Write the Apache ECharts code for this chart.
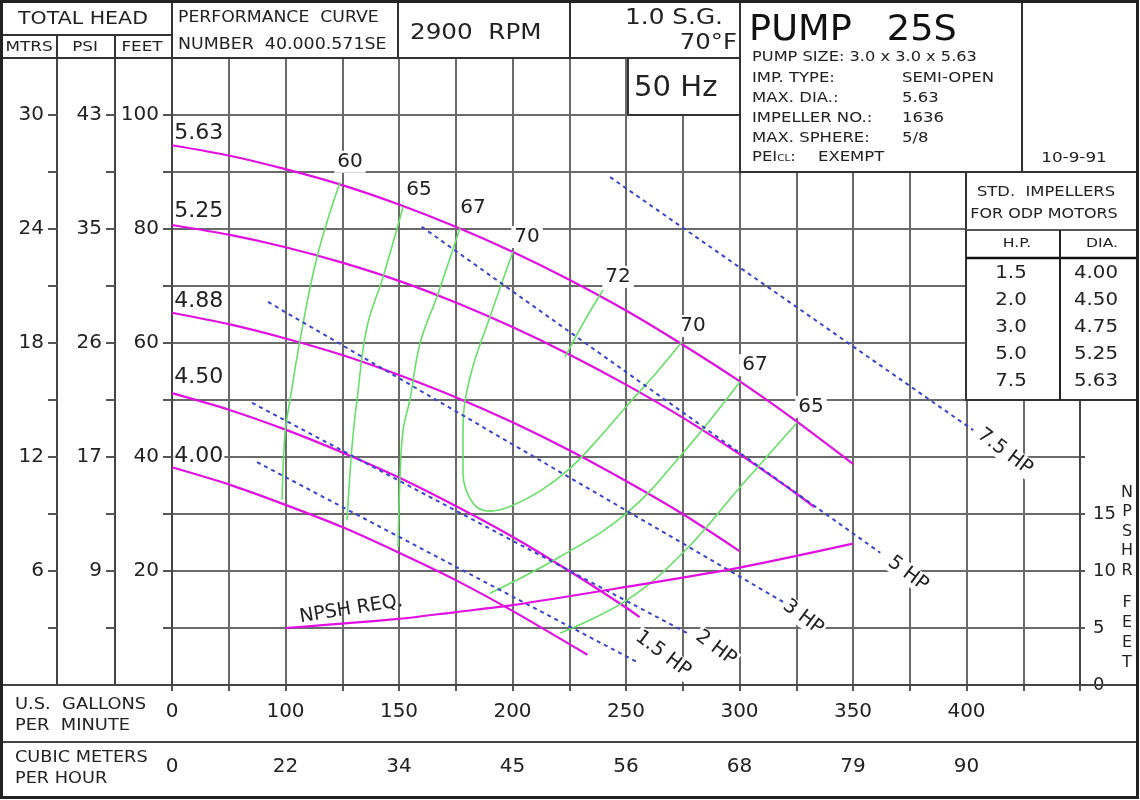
<!DOCTYPE html>
<html><head><meta charset="utf-8">
<script src="https://cdn.jsdelivr.net/npm/echarts@6/dist/echarts.min.js"></script>
<style>html,body{margin:0;padding:0;background:#fff}#c{width:1140px;height:800px}</style>
</head><body><div id="c"></div>
<script>
const FONT = '"DejaVu Sans", Verdana, sans-serif';

// ---- data (flow in US gpm, head in feet) ----
const gpm563 = [0,50,100,125,150,175,200,225,250,275,300,325,350];
const head563 = [94.7,92.9,90.5,87.7,84.3,80.4,76.0,71.1,65.7,59.7,53.3,46.3,38.8];
const gpm525 = [0,50,100,125,150,175,200,225,250,275,300,325,333];
const head525 = [80.7,79.0,76.8,74.1,70.9,67.1,62.8,58.0,52.7,46.9,40.5,33.6,31.2];
const gpm488 = [0,50,100,125,150,175,200,225,250,275,300];
const head488 = [65.3,63.3,60.8,57.9,54.4,50.5,46.1,41.2,35.8,30.0,23.5];
const gpm450 = [0,50,100,125,150,175,200,225,250,256];
const head450 = [51.2,48.3,44.8,40.8,36.4,31.4,26.0,20.0,13.6,11.9];
const gpm400 = [0,50,100,125,150,175,200,233];
const head400 = [38.2,35.2,31.6,27.7,23.2,18.4,13.0,5.3];

const eff60 = [[124,88.2],[113.9,75.1],[106.4,60.5],[102,50.0],[99.6,44.2],[97,32.5]];
const eff65L = [[151.8,83.9],[143,71.6],[135.9,62.8],[131.5,50.0],[129.3,41.8],[127.1,28.9]];
const eff67L = [[176.9,80.2],[166.7,68.1],[159.3,60.0],[154.8,50.0],[151.8,44.7],[150.4,36.0],[149.6,24.2]];
const eff70 = [[200.2,76.0],[190.1,64.6],[181.3,54.0],[178.2,44.7],[178.2,37.2],[182.6,31.9],[190.1,30.5],[198.9,31.3],[212.1,34.0],[225.3,38.0],[238.5,43.5],[250.4,49.0],[262.8,54.5],[274.7,60.2]];
const eff72 = [[239.9,69.3],[231.9,64.0],[223.1,57.5]];
const eff67R = [[300.2,53.2],[275.1,40.7],[250.4,30.2],[220.9,22.5],[190.1,16.1]];
const eff65R = [[325.3,46.0],[300.2,34.7],[275.1,23.2],[250.4,14.9],[220.9,9.1]];

const hp15 = [[74.9,39.1],[255,4.0]];
const hp2 = [[70.5,49.5],[277,9.1]];
const hp3 = [[84.6,67.2],[320,14.4]];
const hp5 = [[160,80.4],[362,23.2]];
const hp75 = [[243,89.1],[403,44.7]];

// NPSH required (gpm, feet NPSH)
const npshGpm = [100,150,175,200,250,300,350];
const npshFt = [5.0,5.8,6.4,7.0,8.6,10.3,12.4];

// labels: [text, gpm, head]
const diaLabels = [['5.63',1.2,96.8],['5.25',1.2,83.1],['4.88',1.2,67.4],['4.50',1.2,53.9],['4.00',1.2,40.2]];
const effLabels = [['60',128.4,91.8],['65',158.8,86.8],['67',182.6,83.7],['70',206.4,78.6],['72',246.5,71.6],['70',279.5,63.0],['67',306.8,56.1],['65',331.5,48.8]];
const hpLabels = [['1.5 HP',266.3,5.4],['2 HP',289.6,6.5],['3 HP',328,11.9],['5 HP',374.2,19.5],['7.5 HP',416.9,40.9]];
const npshLabel = ['NPSH REQ.',128.9,13.3];

// axis tick labels
const flowTickPos = [0,100,150,200,250,300,350,400];
const gpmTickText = ['0','100','150','200','250','300','350','400'];
const cmhTickText = ['0','22','34','45','56','68','79','90'];
const feetTicks = [20,40,60,80,100];
const psiText = ['9','17','26','35','43'];
const mtrsText = ['6','12','18','24','30'];
const npshTicks = [0,5,10,15];

// ---- helpers ----
// the flow scale is compressed between 0 and 100 gpm (as on the original sheet)
const toU = g => g < 100 ? 50 + g / 2 : g;
const zip = (gs, hs) => gs.map((g, i) => [toU(g), hs[i]]);
const conv = arr => arr.map(p => [toU(p[0]), p[1]]);

const MAG = '#e010e0', GRN = '#66e066', BLU = '#3a44cc', GRID = '#6a6a6a', TXT = '#222';

function curve(data, color, width, smooth, yIdx, dash) {
  return {type:'line', data, xAxisIndex:0, yAxisIndex:yIdx||0, showSymbol:false, symbol:'none', smooth:smooth,
    silent:true, z:3, lineStyle:{color, width, type: dash || 'solid'}};
}
function labelSeries(list, opts) {
  return {type:'scatter', xAxisIndex:0, yAxisIndex:0, symbolSize:0, silent:true, z:6,
    itemStyle:{opacity:1},
    data: list.map(l => ({value:[toU(l[1]), l[2]], name:l[0]})),
    label: Object.assign({show:true, position:'inside', formatter:'{b}', color:TXT, opacity:1, fontFamily:FONT}, opts)};
}

const series = [
  curve(zip(gpm563, head563), MAG, 2.2, 0.25),
  curve(zip(gpm525, head525), MAG, 2.2, 0.25),
  curve(zip(gpm488, head488), MAG, 2.2, 0.25),
  curve(zip(gpm450, head450), MAG, 2.2, 0.25),
  curve(zip(gpm400, head400), MAG, 2.2, 0.25),
  curve(conv(eff60), GRN, 1.6, 0.4),
  curve(conv(eff65L), GRN, 1.6, 0.4),
  curve(conv(eff67L), GRN, 1.6, 0.4),
  curve(conv(eff70), GRN, 1.6, 0.4),
  curve(conv(eff72), GRN, 1.6, 0.4),
  curve(conv(eff67R), GRN, 1.6, 0.4),
  curve(conv(eff65R), GRN, 1.6, 0.4),
  curve(conv(hp15), BLU, 2, 0, 0, [4,4]),
  curve(conv(hp2), BLU, 2, 0, 0, [4,4]),
  curve(conv(hp3), BLU, 2, 0, 0, [4,4]),
  curve(conv(hp5), BLU, 2, 0, 0, [4,4]),
  curve(conv(hp75), BLU, 2, 0, 0, [4,4]),
  curve(zip(npshGpm, npshFt), MAG, 2.2, 0.3, 3),
  labelSeries(diaLabels, {fontSize:22, align:'left', verticalAlign:'middle', backgroundColor:'#fff', padding:[0,1]}),
  labelSeries(effLabels, {fontSize:20, align:'center', verticalAlign:'middle', backgroundColor:'#fff', padding:[1,3]}),
  labelSeries(hpLabels, {fontSize:19.5, align:'center', verticalAlign:'middle', rotate:-37, backgroundColor:'#fff', padding:[0,2]}),
  labelSeries([npshLabel], {fontSize:19, align:'center', verticalAlign:'middle', rotate:9})
];

function mapLabel(ticks, texts) {
  return v => { const i = ticks.indexOf(v); return i >= 0 ? texts[i] : ''; };
}
const flowPosU = flowTickPos.map(toU);

const axisLineStyle = {color:'#444', width:2};
const tickStyle = {color:'#555', width:2};
const lab = (extra) => Object.assign({color:TXT, fontFamily:FONT}, extra);

const yAxes = [
  {type:'value', min:0, max:110, interval:10, position:'left', offset:0,
   axisLine:{show:true, lineStyle:axisLineStyle}, axisTick:{show:true, length:9, lineStyle:tickStyle},
   axisLabel:lab({fontSize:20, margin:13, formatter: mapLabel(feetTicks, feetTicks.map(String))}),
   splitLine:{show:true, lineStyle:{color:GRID, width:2}}},
  {type:'value', min:0, max:110, interval:10, position:'left', offset:57,
   axisLine:{show:true, lineStyle:axisLineStyle}, axisTick:{show:true, length:9, lineStyle:tickStyle},
   axisLabel:lab({fontSize:20, margin:13, formatter: mapLabel(feetTicks, psiText)}), splitLine:{show:false}},
  {type:'value', min:0, max:110, interval:10, position:'left', offset:115,
   axisLine:{show:true, lineStyle:axisLineStyle}, axisTick:{show:true, length:9, lineStyle:tickStyle},
   axisLabel:lab({fontSize:20, margin:13, formatter: mapLabel(feetTicks, mtrsText)}), splitLine:{show:false}},
  {type:'value', min:0, max:55, interval:5, position:'right', offset:0,
   axisLine:{show:true, lineStyle:axisLineStyle}, axisTick:{show:true, length:5, lineStyle:tickStyle},
   axisLabel:lab({fontSize:18, margin:13, formatter: mapLabel(npshTicks, npshTicks.map(String))}), splitLine:{show:false}}
];
const xAxes = [
  {type:'value', min:50, max:450, interval:25, position:'bottom', offset:0,
   axisLine:{show:true, lineStyle:axisLineStyle}, axisTick:{show:true, length:6, lineStyle:tickStyle},
   axisLabel:lab({fontSize:20, margin:17, formatter: mapLabel(flowPosU, gpmTickText), showMinLabel:true, showMaxLabel:true}),
   splitLine:{show:true, lineStyle:{color:GRID, width:2}}},
  {type:'value', min:50, max:450, interval:25, position:'bottom', offset:57,
   axisLine:{show:true, lineStyle:axisLineStyle}, axisTick:{show:true, length:6, lineStyle:tickStyle},
   axisLabel:lab({fontSize:20, margin:15, formatter: mapLabel(flowPosU, cmhTickText), showMinLabel:true}),
   splitLine:{show:false}}
];

// ---- sheet decoration ----
const G = [];
const Z = 50;
function box(x, y, w, h, lw) { G.push({type:'rect', z:Z, shape:{x, y, width:w, height:h}, style:{fill:'#fff', stroke:'#333', lineWidth:lw||2}}); }
function ln(x1, y1, x2, y2, lw, c) { G.push({type:'line', z:Z+1, shape:{x1, y1, x2, y2}, style:{stroke:c||'#333', lineWidth:lw||2}}); }
function tx(t, x, y, size, align, sx, extra) {
  G.push({type:'text', z:Z+2, x, y, scaleX:sx||1, scaleY:1,
    style:Object.assign({text:t, x:0, y:0, font:size + 'px ' + FONT, fill:TXT, textAlign:align||'left', textVerticalAlign:'middle'}, extra||{})});
}
// header left
box(0, 0, 172, 35); box(0, 35, 172, 23);
ln(57, 35, 57, 58, 2); ln(115, 35, 115, 58, 2);
tx('TOTAL HEAD', 83, 19, 18, 'center', 1.14);
tx('MTRS', 29, 47, 14, 'center', 1.2); tx('PSI', 85, 47, 14, 'center', 1.2); tx('FEET', 142, 47, 14, 'center', 1.2);
// performance curve number
box(172, 0, 226, 58);
tx('PERFORMANCE  CURVE', 178, 18, 15, 'left', 1.15);
tx('NUMBER  40.000.571SE', 178, 45, 15, 'left', 1.16);
box(398, 0, 172, 58);
tx('2900  RPM', 410, 33, 22, 'left', 1.12);
box(570, 0, 170, 58);
tx('1.0 S.G.', 723, 19, 21, 'right', 1.18);
tx('70°F', 737, 44, 21, 'right', 1.16);
box(628, 58, 112, 57);
tx('50 Hz', 634, 89, 28, 'left', 1.04);
// pump info
box(740, 0, 282, 172);
tx('PUMP   25S', 749, 31, 36, 'left', 1.02, {fill:'#111'});
tx('PUMP SIZE: 3.0 x 3.0 x 5.63', 752, 57, 13.5, 'left', 1.2);
const infoRows = [['IMP. TYPE:', 'SEMI-OPEN'], ['MAX. DIA.:', '5.63'], ['IMPELLER NO.:', '1636'], ['MAX. SPHERE:', '5/8']];
infoRows.forEach((r, i) => { tx(r[0], 752, 78 + i * 20, 13.5, 'left', 1.22); tx(r[1], 902, 78 + i * 20, 13.5, 'left', 1.22); });
G.push({type:'text', z:Z+2, x:752, y:157, scaleX:1.22, style:{text:'PEI{s|CL}:', x:0, y:0, font:'13.5px ' + FONT, fill:TXT, textVerticalAlign:'middle',
  rich:{s:{fontSize:8.5, fontFamily:FONT, fill:TXT, padding:[4,0,0,0]}}}});
tx('EXEMPT', 818, 157, 13.5, 'left', 1.22);
box(1022, 0, 116, 172);
tx('10-9-91', 1074, 158, 14, 'center', 1.2);
// standard impellers table
box(966, 172, 172, 228);
tx('STD.  IMPELLERS', 1046, 192, 14, 'center', 1.17);
tx('FOR ODP MOTORS', 1044, 214, 14, 'center', 1.14);
ln(966, 230, 1138, 230, 2, '#555');
ln(966, 258, 1138, 258, 2.5, '#111');
ln(1060, 230, 1060, 400, 2, '#222');
tx('H.P.', 1017, 244, 13, 'center', 1.2); tx('DIA.', 1102, 244, 13, 'center', 1.2);
const stdHp = ['1.5', '2.0', '3.0', '5.0', '7.5'];
const stdDia = ['4.00', '4.50', '4.75', '5.25', '5.63'];
stdHp.forEach((h, i) => { tx(h, 1011, 273 + i * 27.2, 18, 'center', 1.1); tx(stdDia[i], 1118, 273 + i * 27.2, 18, 'right', 1.1); });
// NPSH axis title
G.push({type:'text', z:Z+2, style:{text:'N\nP\nS\nH\nR', x:1127, y:483, font:'16px ' + FONT, fill:TXT, textAlign:'center', textVerticalAlign:'top', lineHeight:19.5}});
G.push({type:'text', z:Z+2, style:{text:'F\nE\nE\nT', x:1127, y:593, font:'16px ' + FONT, fill:TXT, textAlign:'center', textVerticalAlign:'top', lineHeight:20}});
// flow rows
ln(0, 685, 1138, 685, 2, '#444');
ln(0, 742, 1138, 742, 2, '#444');
tx('U.S.  GALLONS', 15, 705, 15, 'left', 1.19); tx('PER  MINUTE', 15, 726, 15, 'left', 1.19);
tx('CUBIC METERS', 15, 758, 15, 'left', 1.18); tx('PER HOUR', 15, 779, 15, 'left', 1.18);
// outer frame
G.push({type:'rect', z:Z+5, shape:{x:1.5, y:1.5, width:1136, height:796}, style:{fill:null, stroke:'#222', lineWidth:3}});

const chart = echarts.init(document.getElementById('c'), null, {renderer:'canvas'});
chart.setOption({
  animation:false,
  backgroundColor:'#fff',
  grid:{left:172, right:60, top:58, bottom:115, containLabel:false},
  xAxis:xAxes,
  yAxis:yAxes,
  series,
  graphic:G
});
</script></body></html>
